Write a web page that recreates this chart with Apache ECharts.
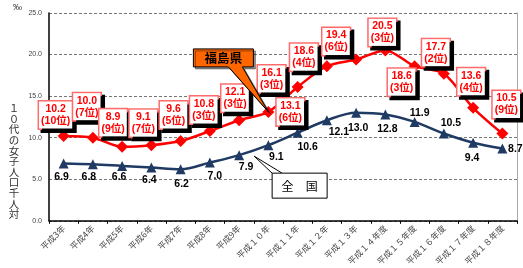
<!DOCTYPE html>
<html><head><meta charset="utf-8">
<script src="https://cdn.jsdelivr.net/npm/echarts@6/dist/echarts.min.js"></script>
<style>html,body{margin:0;padding:0;background:#fff}#c{width:523px;height:268px}</style>
</head><body><div id="c"></div>
<script>
const categories = ['平成3年','平成4年','平成5年','平成6年','平成7年','平成8年','平成9年','平成１０年','平成１１年','平成１２年','平成１３年','平成１４年度','平成１５年度','平成１６年度','平成１７年度','平成１８年度'];
const fukushima = [10.2,10.0,8.9,9.1,9.6,10.8,12.1,13.1,16.1,18.6,19.4,20.5,18.6,17.7,13.6,10.5];
const fukushimaRank = [10,7,9,7,5,3,3,6,3,4,6,3,3,2,4,9];
const national = [6.9,6.8,6.6,6.4,6.2,7.0,7.9,9.1,10.6,12.1,13.0,12.8,11.9,10.5,9.4,8.7];
const yTickLabels = ['0.0','5.0','10.0','15.0','20.0','25.0'];

// label placement (styling only)
const redLabelOffsets = [[-8,-21],[-6,-31],[-9,-24],[-8,-22],[-7,-26],[-6,-21],[-4,-22],[22,0],[-26,-8],[-23,-9],[-20,-18],[-3,-18],[-13,16],[-8,-21],[-2,-26],[4,-29]];
const blueLabelOffsets = [[-2,14],[-4,13],[-3,11],[-2,12],[1,15],[5,13],[7,12],[8,12],[10,14],[12,12],[2,15],[2,15],[5,-9],[7,-10],[-1,15],[13,1]];

const FONT = "'Liberation Sans','Noto Sans CJK JP',sans-serif";
const chart = echarts.init(document.getElementById('c'), null, {renderer:'canvas'});

const redData = fukushima.map((v,i)=>({value:v, label:{offset:redLabelOffsets[i]}}));
const blueData = national.map((v,i)=>({value:v, label:{offset:blueLabelOffsets[i]}}));

chart.setOption({
  animation:false,
  backgroundColor:'#fff',
  grid:{left:49,right:6,top:13,bottom:39,containLabel:false},
  xAxis:{
    type:'category', data:categories, boundaryGap:true,
    axisLine:{lineStyle:{color:'#000',width:1.5}},
    axisTick:{show:true,inside:false,length:3,lineStyle:{color:'#000'}},
    axisLabel:{rotate:45,fontSize:8.5,color:'#444',margin:6,fontFamily:"'Noto Sans CJK JP',sans-serif",interval:0},
    splitLine:{show:false}
  },
  yAxis:[{
    type:'value', min:0, max:25, interval:5,
    axisLine:{show:true,lineStyle:{color:'#000',width:1.5}},
    axisTick:{show:false},
    axisLabel:{fontSize:7,color:'#444',margin:7,fontFamily:FONT,formatter:(v)=>yTickLabels[Math.round(v/5)]},
    splitLine:{show:true,lineStyle:{color:'#777',type:[3,2],width:1}}
  },{
    type:'value', min:0, max:25, interval:5, position:'right',
    axisLine:{show:true,lineStyle:{color:'#aaa',width:1}},
    axisTick:{show:false}, axisLabel:{show:false}, splitLine:{show:false}
  }],
  series:[{
    name:'福島県', type:'line', data:redData, smooth:0.3,
    symbol:'diamond', symbolSize:12,
    lineStyle:{color:'#FF0000',width:2.5},
    itemStyle:{color:'#FF0000'},
    z:3,
    label:{
      show:true, position:'inside',
      formatter:(p)=>p.value.toFixed(1)+'\n('+fukushimaRank[p.dataIndex]+'位)',
      color:'#FF0000', fontWeight:'bold', fontSize:10.5, lineHeight:12, fontFamily:FONT,
      backgroundColor:'#fff', borderColor:'#FF6b6b', borderWidth:1.5,
      padding:[2,2,1,2],
      shadowColor:'#000', shadowOffsetX:3, shadowOffsetY:3, shadowBlur:0
    }
  },{
    name:'全国', type:'line', data:blueData, smooth:0.35,
    symbol:'triangle', symbolSize:10,
    lineStyle:{color:'#1F3A63',width:2.5},
    itemStyle:{color:'#1F3A63'},
    z:2,
    label:{
      show:true, position:'inside',
      formatter:(p)=>p.value.toFixed(1),
      color:'#000', fontWeight:'bold', fontSize:10.5, fontFamily:FONT
    }
  }]
});

// annotations anchored to data points
const tipR = chart.convertToPixel({seriesIndex:0},[7,fukushima[7]]);
const tipB = chart.convertToPixel({seriesIndex:1},[6,national[6]]);
const rx = tipR[0], ry = tipR[1];
const bx = tipB[0]+15, by = tipB[1]+1;

let ylabel = '１０代の女子人口千人対'.split('').join('\n');
chart.setOption({graphic:[
  {type:'text', left:13, top:3, style:{text:'‰', fontSize:9, fill:'#444', fontFamily:FONT}},
  {type:'text', x:14, y:103, style:{text:ylabel, fontSize:10.5, lineHeight:10.6, fill:'#333', align:'center', verticalAlign:'top', fontFamily:"'Noto Sans CJK JP',sans-serif"}},
  // 福島県 callout
  {type:'polygon', z:10, shape:{points:[[rx-75,ry-63],[rx-15,ry-63],[rx-15,ry-45],[rx-26,ry-45],[rx,ry],[rx-40,ry-45],[rx-75,ry-45]]},
    style:{fill:'#FF6600',stroke:'#000',lineWidth:1,shadowColor:'rgba(0,0,0,0.4)',shadowOffsetX:2,shadowOffsetY:2}},
  {type:'text', z:11, x:rx-45, y:ry-54, style:{text:'福島県', fontSize:12.5, fontWeight:'bold', fill:'#000', align:'center', verticalAlign:'middle', fontFamily:"'Noto Sans CJK JP',sans-serif"}},
  // 全国 callout
  {type:'polyline', z:10, shape:{points:[[bx+18,by+17],[bx,by],[bx+28,by+17]]}, style:{stroke:'#000',lineWidth:1,fill:null}},
  {type:'rect', z:10, shape:{x:bx+18,y:by+17,width:55,height:25}, style:{fill:'#fff',stroke:'#000',lineWidth:1}},
  {type:'text', z:11, x:bx+45.5, y:by+30, style:{text:'全　国', fontSize:12, fill:'#000', align:'center', verticalAlign:'middle', fontFamily:"'Noto Sans CJK JP',sans-serif"}}
]});
</script></body></html>
